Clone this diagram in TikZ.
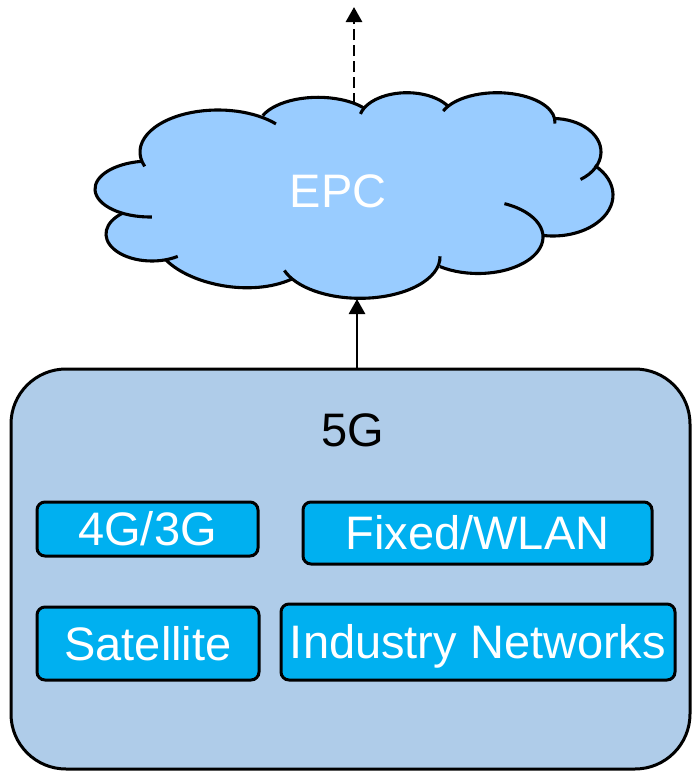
\documentclass[tikz,border=0pt]{standalone}
\usepackage{fontspec}
\setmainfont{Liberation Sans}
\usetikzlibrary{arrows.meta}
\definecolor{cloudblue}{RGB}{153,204,255}
\definecolor{outerblue}{RGB}{175,204,233}
\definecolor{innerblue}{RGB}{0,176,240}
\newcommand\bigtxt{\fontsize{47pt}{56pt}\selectfont}
\begin{document}
\begin{tikzpicture}[x=1pt,y=1pt,
  cloudline/.style={line width=3.1pt},
  label/.style={font=\bigtxt, text height=33.7pt, text depth=0pt, inner sep=0pt},
  inbox/.style={draw, fill=innerblue, line width=3pt, rounded corners=8pt,
    text=white, font=\bigtxt, text height=33.7pt, text depth=0pt, inner sep=0pt},
  conn/.style={line width=2.8pt, -{Triangle[length=15pt,width=16pt]}}]
\useasboundingbox (0,0) rectangle (692,-771);

% ---- cloud fill ----
\fill[cloudblue]
 ([shift={(192:78pt and 42pt)}]218,-152) arc[start angle=192,end angle=55,x radius=78pt,y radius=42pt]
 -- ([shift={(157:60pt and 30pt)}]318,-127.3) arc[start angle=157,end angle=40,x radius=60pt,y radius=30pt]
 -- ([shift={(155:48pt and 28pt)}]407,-120.7) arc[start angle=155,end angle=30,x radius=48pt,y radius=28pt]
 -- ([shift={(141:58pt and 29.3pt)}]497,-122) arc[start angle=141,end angle=11,x radius=58pt,y radius=29.3pt]
 -- ([shift={(89:48pt and 33.5pt)}]553,-152) arc[start angle=89,end angle=-24,x radius=48pt,y radius=33.5pt]
 -- ([shift={(46:60pt and 41pt)}]553,-195) arc[start angle=46,end angle=-99,x radius=60pt,y radius=41pt]
 -- ([shift={(1:65pt and 36.5pt)}]478,-237) arc[start angle=1,end angle=-126,x radius=65pt,y radius=36.5pt]
 -- ([shift={(-16.5:80pt and 41.3pt)}]360,-257) arc[start angle=-16.5,end angle=-148.7,x radius=80pt,y radius=41.3pt]
 -- (292,-279) .. controls (251,-297.5) and (190.7,-284.7) .. (166,-260)
 -- ([shift={(-72:46pt and 27pt)}]152,-234) arc[start angle=-72,end angle=-230,x radius=46pt,y radius=27pt]
 -- ([shift={(239:55pt and 28pt)}]150,-189) arc[start angle=239,end angle=99,x radius=55pt,y radius=28pt]
 -- cycle;

% ---- cloud outline with inner tails ----
\draw[cloudline] ([shift={(200:78pt and 42pt)}]218,-152) arc[start angle=200,end angle=42,x radius=78pt,y radius=42pt];
\draw[cloudline] ([shift={(157:60pt and 30pt)}]318,-127.3) arc[start angle=157,end angle=40,x radius=60pt,y radius=30pt];
\draw[cloudline] ([shift={(166:48pt and 28pt)}]407,-120.7) arc[start angle=166,end angle=30,x radius=48pt,y radius=28pt];
\draw[cloudline] ([shift={(158:58pt and 29.3pt)}]497,-122) arc[start angle=158,end angle=-3,x radius=58pt,y radius=29.3pt];
\draw[cloudline] ([shift={(89:48pt and 33.5pt)}]553,-152) arc[start angle=89,end angle=-55,x radius=48pt,y radius=33.5pt];
\draw[cloudline] ([shift={(46:60pt and 41pt)}]553,-195) arc[start angle=46,end angle=-99,x radius=60pt,y radius=41pt];
\draw[cloudline] ([shift={(66:65pt and 36.5pt)}]478,-237) arc[start angle=66,end angle=-126,x radius=65pt,y radius=36.5pt];
\draw[cloudline] ([shift={(1:80pt and 41.3pt)}]360,-257) arc[start angle=1,end angle=-161,x radius=80pt,y radius=41.3pt];
\draw[cloudline] (292,-279) .. controls (251,-297.5) and (190.7,-284.7) .. (166,-260);
\draw[cloudline] ([shift={(-56:46pt and 27pt)}]152,-234) arc[start angle=-56,end angle=-230,x radius=46pt,y radius=27pt];
\draw[cloudline] ([shift={(272:55pt and 28pt)}]150,-189) arc[start angle=272,end angle=99,x radius=55pt,y radius=28pt];

\node[label, text=white] (epc) at (338,-191) {EPC};

% ---- 5G container ----
\node[draw, fill=outerblue, line width=3pt, rounded corners=55pt,
  minimum width=679pt, minimum height=400pt, inner sep=0pt] (g5) at (350.5,-569) {};
\node[label] (lbl5g) at (353,-430) {5G};

\node[inbox, minimum width=221pt, minimum height=54pt] (n43) at (147.5,-529) {4G/3G};
\node[inbox, minimum width=349pt, minimum height=62pt] (nfw) at (477.5,-533) {Fixed/WLAN};
\node[inbox, minimum width=222pt, minimum height=73pt] (nsat) at (148,-643.5) {Satellite};
\node[inbox, minimum width=394pt, minimum height=76pt] (nind) at (478,-642) {Industry Networks};

% ---- connectors ----
\coordinate (cloudtop) at (354,-104);
\coordinate (uptip) at (354,-7);
\coordinate (cloudbot) at (357,-299);
\draw[conn, dash pattern=on 11pt off 5pt] (cloudtop) -- (uptip);
\draw[conn] (g5.north -| cloudbot) -- (cloudbot);
\end{tikzpicture}
\end{document}
